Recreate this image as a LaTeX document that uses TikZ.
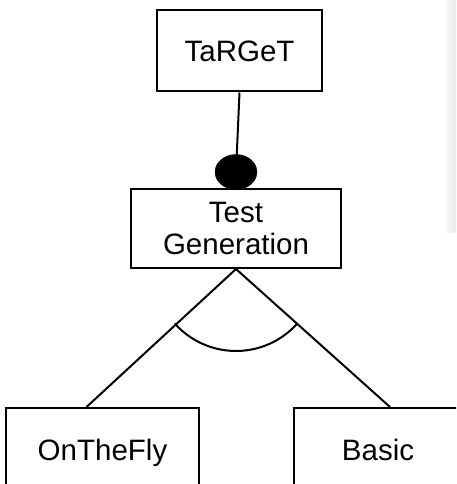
\documentclass[tikz,border=0pt]{standalone}
\usepackage{fontspec}
\setmainfont{Liberation Sans}
\usetikzlibrary{calc,shapes.geometric}
\begin{document}
\begin{tikzpicture}[x=1pt,y=-1pt,
  feat/.style={draw,line width=2pt,fill=white,inner sep=0pt,align=center,
    font=\fontsize{29.5}{32}\selectfont},
  one/.style={text height=21pt,text depth=0pt},
  conn/.style={line width=2pt}]
\useasboundingbox (0,0) rectangle (456,484);
\clip (0,0) rectangle (456,484);
\shade[left color=white,right color=black!9] (443,0) rectangle (456,232);
\node[feat,one,minimum width=165pt,minimum height=81pt] (target) at (239.5,51) {TaRGeT};
\node[draw,fill=black,ellipse,minimum width=42pt,minimum height=35pt,inner sep=0pt] (mand) at (236,172) {};
\node[feat,minimum width=210pt,minimum height=79pt] (tg) at (236,228.5) {Test\\Generation};
\node[feat,one,minimum width=193pt,minimum height=84pt] (otf) at (102.5,450) {OnTheFly};
\node[feat,one,minimum width=168pt,minimum height=84pt] (basic) at (378,450) {Basic};
\draw[conn] (target.south) -- (mand.center);
\coordinate (apex) at (tg.south);
\draw[conn] (apex) -- ([xshift=-16pt]otf.north);
\draw[conn] (apex) -- ([xshift=12pt]basic.north);
\draw[conn] ([shift={(221.6:82pt)}]apex) arc[start angle=221.6,end angle=318,radius=82pt];
\end{tikzpicture}
\end{document}
